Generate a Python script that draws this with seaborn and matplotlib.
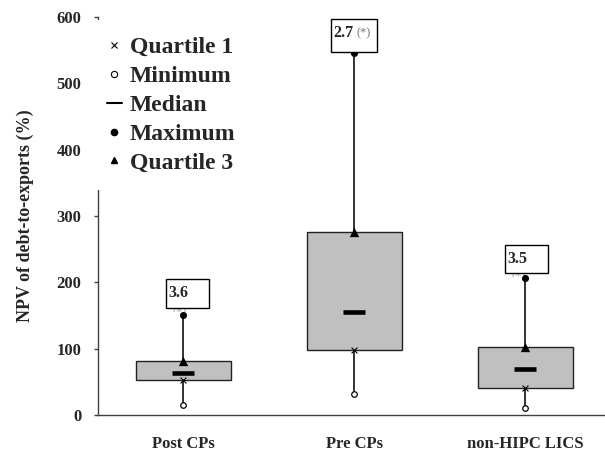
import numpy as np
import pandas as pd
import seaborn as sns
import matplotlib.pyplot as plt
from matplotlib.lines import Line2D
from matplotlib.patches import Rectangle

# datos (NPV deuda/exportaciones, %)
categorias = ["Post CPs", "Pre CPs", "non-HIPC LICS"]
minimo = [15, 32, 10]
cuartil1 = [53, 98, 40]
mediana = [64, 156, 69]
cuartil3 = [82, 276, 102]
maximo = [151, 545, 207]
ratios = ["3.6", "2.7", "3.5"]
leyenda = ["Quartile 1", "Minimum", "Median", "Maximum", "Quartile 3"]

# cajitas de texto encima de cada maximo
caja_dx = [-0.105, -0.14, -0.12]
caja_ancho = [0.257, 0.27, 0.25]
caja_gap = [10, 2, 7]
caja_alto = [44, 50, 42]

sns.set_style("white")
plt.rcParams['font.family'] = ['Liberation Serif', 'DejaVu Serif']
plt.rcParams['font.weight'] = 'bold'

fig = plt.figure(figsize=(6.05, 4.55), dpi=100)
ax = fig.add_axes([98/605, 40/455, 507/605, 398/455])
pos = np.arange(len(categorias))

# bigotes de minimo a maximo
ax.vlines(pos, minimo, maximo, color='#111111', lw=1.2, zorder=1)

# cajas de cuartil 1 a cuartil 3
alto = np.array(cuartil3) - np.array(cuartil1)
sns.barplot(x=pos, y=alto, bottom=cuartil1, native_scale=True, orient='x', width=0.55,
            color='#c0c0c0', saturation=1, edgecolor='#222222', linewidth=1,
            errorbar=None, ax=ax, zorder=2)

sns.scatterplot(x=pos, y=minimo, marker='o', s=16, color='white', edgecolor='black', linewidth=0.9, zorder=4, ax=ax)
sns.scatterplot(x=pos, y=cuartil1, marker='x', s=18, color='black', linewidth=0.8, zorder=4, ax=ax)
sns.scatterplot(x=pos, y=mediana, marker='_', s=250, color='black', linewidth=3.3, zorder=4, ax=ax)
sns.scatterplot(x=pos, y=maximo, marker='o', s=26, color='black', linewidth=0, zorder=4, ax=ax)
sns.scatterplot(x=pos, y=cuartil3, marker='^', s=45, color='black', linewidth=0, zorder=4, ax=ax)

for i in range(len(categorias)):
    x0 = pos[i] + caja_dx[i]
    y0 = maximo[i] + caja_gap[i]
    ax.add_patch(Rectangle((x0, y0), caja_ancho[i], caja_alto[i], facecolor='white',
                           edgecolor='black', lw=1, zorder=5))
    ax.annotate(ratios[i], xy=(x0, y0 + caja_alto[i]), xytext=(2, -4), textcoords='offset points',
                ha='left', va='top', fontsize=11.5, fontweight='bold', zorder=6)
    if i == 1:
        ax.annotate("(*)", xy=(x0, y0 + caja_alto[i]), xytext=(19, -6), textcoords='offset points',
                    ha='left', va='top', fontsize=9, fontweight='normal', color='#777777', zorder=6)
    else:
        t = ax.annotate("(*)", xy=(x0, y0), xytext=(5, 1), textcoords='offset points',
                        ha='left', va='top', fontsize=9, fontweight='normal', color='#aaaaaa', zorder=3)
        t.set_clip_path(Rectangle((x0, y0 - 6), caja_ancho[i], 6, transform=ax.transData))

ax.set_xlim(-0.5, 2.465)
ax.set_ylim(0, 600)
ax.set_yticks(np.arange(0, 601, 100))
ax.set_xticks(pos, categorias)
ax.tick_params(axis='x', length=0, pad=15, labelsize=12)
ax.tick_params(axis='y', length=3, width=1, pad=9, labelsize=12, left=True, color='#404040')
for lado in ['top', 'right']:
    ax.spines[lado].set_visible(False)
for lado in ['left', 'bottom']:
    ax.spines[lado].set_color('#404040')
    ax.spines[lado].set_linewidth(1)
ax.set_xlabel("")
ax.set_ylabel("NPV of debt-to-exports (%)", fontsize=13, fontweight='bold', labelpad=16)

manijas = [Line2D([], [], ls='None', marker='x', color='k', ms=4, mew=0.8),
           Line2D([], [], ls='None', marker='o', mfc='white', mec='k', ms=4.5, mew=0.8),
           Line2D([], [], color='k', lw=1.5),
           Line2D([], [], ls='None', marker='o', color='k', ms=4.5),
           Line2D([], [], ls='None', marker='^', color='k', ms=5)]
ax.legend(manijas, leyenda, loc='upper left', bbox_to_anchor=(90/605, 1 - 20/455),
          bbox_transform=fig.transFigure, borderaxespad=0, frameon=True, facecolor='white',
          edgecolor='none', framealpha=1, fancybox=False, prop={'size': 17, 'weight': 'bold'},
          handlelength=0.64, handletextpad=0.34, labelspacing=0.31, borderpad=0.71)

fig.savefig('out.png', dpi=100)
